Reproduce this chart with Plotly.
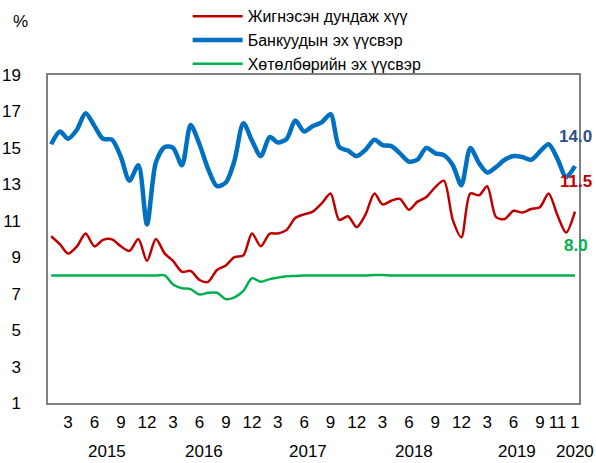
import pandas as pd
import plotly.graph_objects as go

# monthly, 2015-01 .. 2020-01
months = pd.date_range("2015-01-01", "2020-01-01", freq="MS")

weighted_avg = [10.15, 9.7, 9.2, 9.6, 10.3, 9.6, 9.95, 9.98, 9.6, 9.35, 10.0, 8.8,
                10.0, 9.2, 8.8, 8.2, 8.25, 7.75, 7.65, 8.3, 8.55, 9.0, 9.1, 10.3,
                9.6, 10.3, 10.3, 10.5, 11.15, 11.35, 11.5, 11.95, 12.5, 11.05, 11.25, 10.65,
                11.35, 12.5, 11.9, 12.1, 12.2, 11.6, 12.05, 12.3, 12.85, 13.2, 11.05, 10.1,
                12.5, 12.4, 12.9, 11.2, 11.1, 11.55, 11.45, 11.65, 11.75, 12.5, 11.3, 10.35,
                11.5]
bank_funds = [15.2, 15.9, 15.5, 16.0, 16.9, 16.2, 15.5, 15.45, 14.5, 13.2, 14.05, 10.8,
              14.2, 15.05, 15.0, 14.05, 16.25, 15.2, 13.85, 12.9, 13.1, 14.3, 16.35, 15.4,
              14.55, 15.6, 15.3, 15.5, 16.5, 15.9, 16.2, 16.4, 16.85, 15.05, 14.85, 14.55,
              14.9, 15.45, 15.15, 15.1, 14.7, 14.25, 14.35, 15.0, 14.7, 14.6, 14.05, 12.95,
              15.0, 14.15, 13.65, 13.95, 14.35, 14.55, 14.5, 14.35, 14.8, 15.2, 14.4, 13.4,
              14.0]
program_funds = [8.0, 8.0, 8.0, 8.0, 8.0, 8.0, 8.0, 8.0, 8.0, 8.0, 8.0, 8.0,
                 8.0, 8.0, 7.5, 7.3, 7.25, 6.95, 7.05, 7.05, 6.7, 6.8, 7.15, 7.85,
                 7.65, 7.8, 7.88, 7.95, 7.97, 8.0, 8.0, 8.0, 8.0, 8.0, 8.0, 8.0,
                 8.0, 8.02, 8.02, 8.0, 8.0, 8.0, 8.0, 8.0, 8.0, 8.0, 8.0, 8.0,
                 8.0, 8.0, 8.0, 8.0, 8.0, 8.0, 8.0, 8.0, 8.0, 8.0, 8.0, 8.0,
                 8.0]

names = ["Жигнэсэн дундаж хүү", "Банкуудын эх үүсвэр", "Хөтөлбөрийн эх үүсвэр"]
tick_dates = ["2015-03-01", "2015-06-01", "2015-09-01", "2015-12-01",
              "2016-03-01", "2016-06-01", "2016-09-01", "2016-12-01",
              "2017-03-01", "2017-06-01", "2017-09-01", "2017-12-01",
              "2018-03-01", "2018-06-01", "2018-09-01", "2018-12-01",
              "2019-03-01", "2019-06-01", "2019-09-01", "2019-11-01", "2020-01-01"]
tick_text = ["3", "6", "9", "12", "3", "6", "9", "12", "3", "6", "9", "12",
             "3", "6", "9", "12", "3", "6", "9", "11", "1"]
years = ["2015", "2016", "2017", "2018", "2019", "2020"]
year_pos = ["2015-07-16", "2016-06-18", "2017-06-15", "2018-06-18", "2019-06-12", "2020-01-01"]

FONT = "Liberation Sans, Arial"
red, blue, green = "#C00000", "#0070C0", "#00B050"

fig = go.Figure()
for y, name, col, w in [(weighted_avg, names[0], red, 2.5),
                        (bank_funds, names[1], blue, 4.5),
                        (program_funds, names[2], green, 2.5)]:
    fig.add_trace(go.Scatter(x=months, y=y, name=name, mode="lines",
                             line=dict(color=col, width=w, shape="spline", smoothing=0.8)))

# end-of-series labels
for y, col in [(bank_funds, "#2F4F8F"), (weighted_avg, red), (program_funds, green)]:
    fig.add_annotation(x=months[-1], y=y[-1], text=f"<b>{y[-1]:.1f}</b>", showarrow=False,
                       xshift=1, yshift=30, font=dict(size=17, color=col, family=FONT))

for yr, pos in zip(years, year_pos):
    fig.add_annotation(x=pos, y=0, yref="paper", yshift=-60, text=yr, showarrow=False,
                       font=dict(size=17, color="black", family=FONT))

fig.add_annotation(x=0, y=1, xref="paper", yref="paper", xshift=-37, yshift=65,
                   text="%", showarrow=False, font=dict(size=17, color="black", family=FONT))

fig.update_xaxes(range=["2014-12-21", "2020-01-15"], tickvals=tick_dates, ticktext=tick_text,
                 showgrid=False, showline=True, mirror=True, linecolor="#808080", linewidth=1.5,
                 ticks="", tickangle=0, automargin=False, ticklabelstandoff=3,
                 tickfont=dict(size=17, family=FONT, color="black"))
fig.update_yaxes(range=[1, 19], tickvals=[1, 3, 5, 7, 9, 11, 13, 15, 17, 19],
                 showgrid=False, zeroline=False, showline=True, mirror=True, linecolor="#808080",
                 linewidth=1.5, ticks="", ticklabelstandoff=22, automargin=False,
                 tickfont=dict(size=17, family=FONT, color="black"))
fig.update_layout(width=596, height=463,
                  margin=dict(l=48, r=17, t=75, b=60, autoexpand=False),
                  plot_bgcolor="white", paper_bgcolor="white",
                  font=dict(family=FONT, color="black"),
                  legend=dict(x=0.263, y=1.231, xanchor="left", yanchor="top",
                              font=dict(size=16, family=FONT), itemwidth=50,
                              tracegroupgap=0, bgcolor="rgba(0,0,0,0)"))
fig.write_html("out.html", config={"displayModeBar": False},
               post_script="document.body.style.margin='0';")
